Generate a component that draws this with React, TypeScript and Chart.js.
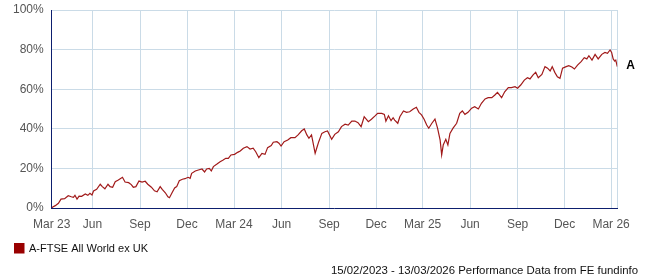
import React, { useEffect, useRef } from "react";
import { Chart, registerables } from "chart.js";

Chart.register(...registerables);

// Days since 13/03/2023
const dayOffsets = [1, 3, 8, 14, 19, 26, 33, 39, 43, 46, 50, 54, 59, 66, 71, 75, 79, 82, 88, 95, 99, 104, 110, 114, 119, 124, 130, 138, 143, 150, 155, 159, 164, 170, 176, 182, 187, 194, 200, 205, 211, 215, 221, 226, 229, 234, 239, 243, 248, 254, 259, 265, 269, 272, 279, 285, 292, 297, 301, 306, 310, 314, 321, 327, 333, 338, 343, 348, 355, 361, 366, 372, 379, 385, 391, 396, 402, 408, 414, 419, 426, 430, 437, 441, 445, 451, 458, 464, 472, 478, 485, 490, 495, 499, 504, 506, 511, 514, 518, 524, 530, 535, 543, 549, 556, 562, 569, 575, 582, 588, 594, 600, 606, 614, 620, 627, 632, 640, 645, 648, 653, 658, 662, 665, 671, 675, 682, 688, 694, 701, 707, 712, 717, 722, 727, 731, 737, 743, 748, 753, 756, 759, 764, 768, 772, 778, 785, 791, 796, 801, 807, 814, 820, 827, 833, 840, 846, 853, 859, 864, 872, 878, 885, 891, 898, 903, 909, 916, 922, 927, 933, 938, 943, 950, 956, 961, 966, 970, 975, 980, 985, 990, 997, 1002, 1008, 1013, 1019, 1026, 1032, 1037, 1041, 1047, 1053, 1059, 1066, 1072, 1077, 1082, 1085, 1088, 1091, 1093, 1096];

// Cumulative performance, %
const performance = [0, 0.5, 1.2, 2.4, 4.5, 4.7, 6.2, 5.7, 5.4, 6.4, 4.5, 6.0, 5.9, 7.1, 6.4, 7.4, 6.6, 8.6, 9.4, 12.0, 10.8, 9.7, 12.0, 10.8, 10.5, 13.3, 14.1, 15.5, 13.1, 12.8, 11.8, 10.5, 10.8, 13.6, 13.1, 13.5, 12.0, 10.5, 8.7, 8.2, 10.8, 9.4, 7.7, 5.7, 5.2, 7.7, 10.1, 10.8, 13.8, 14.5, 14.8, 15.5, 15.0, 17.5, 18.7, 19.2, 19.7, 18.2, 19.7, 20.0, 18.7, 20.9, 22.2, 23.4, 24.2, 25.1, 25.1, 26.8, 27.1, 28.1, 28.8, 30.2, 31.0, 29.8, 30.2, 28.4, 25.4, 27.6, 27.1, 30.5, 31.5, 33.2, 33.5, 32.7, 31.3, 33.5, 34.3, 35.5, 35.5, 36.9, 39.0, 39.9, 36.9, 35.2, 36.9, 34.3, 27.6, 30.2, 33.5, 37.7, 38.5, 38.9, 34.7, 37.2, 38.5, 41.1, 42.3, 41.9, 43.9, 43.9, 43.1, 41.1, 46.1, 43.6, 44.8, 46.5, 47.8, 47.8, 47.3, 43.9, 46.6, 44.1, 45.6, 44.4, 42.8, 46.1, 49.0, 48.3, 48.6, 50.0, 50.9, 48.3, 47.0, 44.8, 41.9, 40.3, 42.8, 44.9, 40.3, 34.3, 26.8, 31.8, 34.7, 31.8, 37.7, 40.3, 42.8, 47.8, 49.0, 47.3, 48.3, 50.4, 51.2, 50.0, 52.9, 55.1, 55.7, 55.7, 57.1, 58.4, 55.7, 58.7, 60.8, 60.8, 61.3, 60.5, 62.1, 64.6, 65.8, 65.2, 67.2, 68.5, 65.8, 67.5, 71.4, 70.6, 69.2, 71.4, 68.5, 66.3, 65.5, 70.6, 71.4, 71.9, 71.2, 70.2, 72.2, 73.9, 75.9, 75.3, 76.9, 74.7, 77.6, 75.3, 77.6, 78.6, 78.1, 79.8, 78.6, 75.3, 74.2, 74.7, 71.4];

const tickDays = [1, 80, 172, 263, 354, 446, 538, 629, 719, 811, 903, 994, 1084, 1096];
const tickLabels = ["Mar 23", "Jun", "Sep", "Dec", "Mar 24", "Jun", "Sep", "Dec", "Mar 25", "Jun", "Sep", "Dec", "Mar 26", ""];
const yTicks = [0, 20, 40, 60, 80, 100];

const seriesName = "A-FTSE All World ex UK";
const seriesTag = "A";
const footerText = "15/02/2023 - 13/03/2026 Performance Data from FE fundinfo";

const LINE_COLOR = "#a11a1a";
const LEGEND_COLOR = "#990000";
const GRID_COLOR = "#cadbe7";
const AXIS_COLOR = "#0d1f6e";
const TEXT_COLOR = "#555555";
const FONT = "Arial, 'Liberation Sans', sans-serif";

export default function App() {
  const ref = useRef<HTMLCanvasElement | null>(null);

  useEffect(() => {
    if (!ref.current) return;
    const extras = {
      id: "extras",
      afterDraw(chart: any) {
        const ctx = chart.ctx;
        const xs = chart.scales.x;
        const ys = chart.scales.y;
        ctx.save();
        // end label
        const lx = xs.getPixelForValue(dayOffsets[dayOffsets.length - 1]);
        const ly = ys.getPixelForValue(performance[performance.length - 1]);
        ctx.fillStyle = "#000";
        ctx.font = "bold 12px " + FONT;
        ctx.textAlign = "left";
        ctx.textBaseline = "middle";
        ctx.fillText(seriesTag, lx + 9, ly - 1);
        // legend
        ctx.fillStyle = LEGEND_COLOR;
        ctx.fillRect(14, 243, 10.5, 10.5);
        ctx.fillStyle = "#111";
        ctx.font = "11px " + FONT;
        ctx.fillText(seriesName, 29, 248.5);
        // footer
        ctx.textAlign = "right";
        ctx.font = "11.4px " + FONT;
        ctx.fillText(footerText, 638, 271);
        ctx.restore();
      },
    };

    const chart = new Chart(ref.current, {
      type: "line",
      data: {
        datasets: [
          {
            label: seriesName,
            data: dayOffsets.map((d, i) => ({ x: d, y: performance[i] })),
            borderColor: LINE_COLOR,
            borderWidth: 1.2,
            pointRadius: 0,
            tension: 0,
            fill: false,
          },
        ],
      },
      options: {
        responsive: false,
        animation: false,
        events: [],
        layout: { padding: { left: 0, right: 29.7, top: 10, bottom: 0 } },
        plugins: { legend: { display: false }, tooltip: { enabled: false } },
        scales: {
          x: {
            type: "linear",
            min: 1,
            max: 1096,
            afterFit: (s: any) => {
              s.height = 72;
              s.paddingLeft = 0;
              s.paddingRight = 0;
            },
            afterBuildTicks: (s: any) => {
              s.ticks = tickDays.map((v) => ({ value: v }));
            },
            grid: { color: GRID_COLOR, lineWidth: 1, drawTicks: false },
            border: { display: true, color: AXIS_COLOR, width: 1 },
            ticks: {
              autoSkip: false,
              maxRotation: 0,
              padding: 9,
              color: TEXT_COLOR,
              font: { family: FONT, size: 12 },
              callback: (v: any) => {
                const i = tickDays.indexOf(Number(v));
                return i >= 0 ? tickLabels[i] : "";
              },
            },
          },
          y: {
            min: 0,
            max: 100,
            afterFit: (s: any) => {
              s.width = 51.7;
              s.paddingTop = 0;
              s.paddingBottom = 0;
            },
            afterBuildTicks: (s: any) => {
              s.ticks = yTicks.map((v) => ({ value: v }));
            },
            grid: { color: GRID_COLOR, lineWidth: 1, drawTicks: false },
            border: { display: true, color: AXIS_COLOR, width: 1 },
            ticks: {
              padding: 8,
              color: TEXT_COLOR,
              font: { family: FONT, size: 12 },
              callback: (v: any) => v + "%",
            },
          },
        },
      },
      plugins: [extras],
    });
    return () => chart.destroy();
  }, []);

  return (
    <div style={{ position: "fixed", left: 0, top: 0, width: 647, height: 280, background: "#fff" }}>
      <canvas ref={ref} width={647} height={280} style={{ width: 647, height: 280, display: "block" }} />
    </div>
  );
}
